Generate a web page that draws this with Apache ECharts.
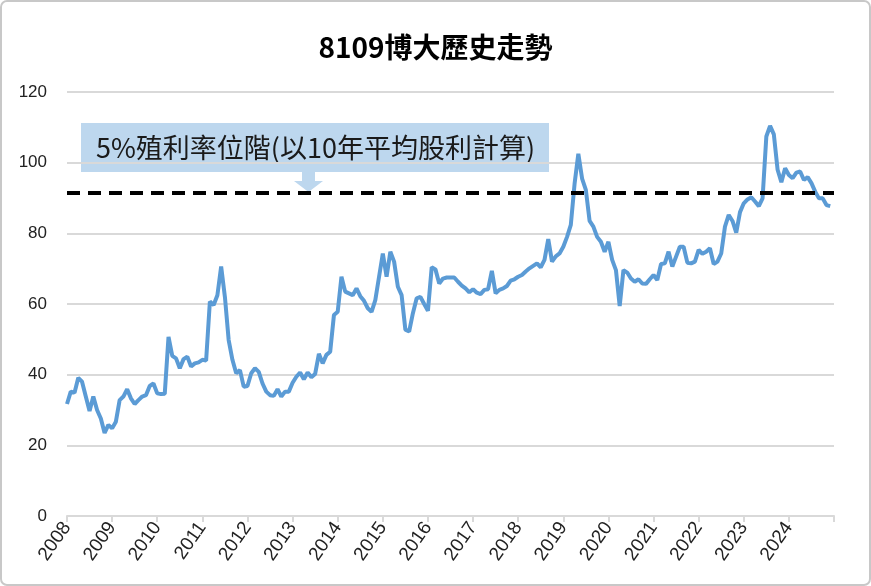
<!DOCTYPE html>
<html>
<head>
<meta charset="utf-8">
<title>8109博大歷史走勢</title>
<script src="https://cdn.jsdelivr.net/npm/echarts@6/dist/echarts.min.js"></script>
<style>
html, body { margin: 0; padding: 0; background: #fff; }
#main { width: 871px; height: 586px; }
</style>
</head>
<body>
<div id="main"></div>
<script>
var chartTitle = '8109博大歷史走勢';
var noteText = '5%殖利率位階(以10年平均股利計算)';
var startYear = 2008;
var endYear = 2025;
// monthly prices, 2008-01 .. 2024-12 (one row per year)
var prices = [
  31.7, 35.2, 34.9, 39.1, 38.0, 33.8, 29.7, 33.8, 30.0, 27.6, 23.5, 25.8,
  24.8, 26.7, 32.8, 33.8, 35.9, 33.3, 31.7, 32.8, 33.8, 34.2, 36.8, 37.5,
  34.7, 34.5, 34.6, 50.7, 45.3, 44.6, 41.8, 44.4, 45.1, 42.3, 43.2, 43.5,
  44.2, 44.0, 60.7, 59.7, 62.5, 70.6, 62.0, 49.8, 44.2, 40.4, 41.3, 36.6,
  36.8, 40.4, 41.8, 40.8, 37.5, 35.2, 34.2, 34.0, 35.9, 33.8, 35.2, 35.2,
  37.7, 39.4, 40.6, 38.7, 40.6, 39.3, 40.2, 45.9, 43.2, 45.6, 46.5, 56.9,
  57.8, 67.7, 63.5, 63.0, 62.5, 64.4, 62.2, 60.9, 58.8, 57.8, 61.1, 67.7,
  74.3, 67.7, 74.8, 72.0, 64.9, 62.5, 52.7, 52.2, 57.4, 61.6, 62.0, 60.0,
  58.1, 70.4, 69.8, 65.8, 67.2, 67.5, 67.5, 67.5, 66.3, 65.2, 64.4, 63.3,
  64.2, 63.2, 62.8, 64.0, 64.2, 69.4, 63.0, 64.0, 64.4, 65.1, 66.6, 67.0,
  67.7, 68.2, 69.2, 70.1, 70.8, 71.5, 70.4, 72.5, 78.4, 72.0, 73.5, 74.3,
  76.2, 79.0, 82.4, 94.0, 102.5, 95.5, 92.3, 83.5, 81.9, 79.0, 77.6, 74.8,
  77.6, 72.5, 69.6, 59.4, 69.6, 68.9, 67.2, 66.3, 67.0, 65.8, 65.7, 67.0,
  68.2, 66.8, 71.3, 71.5, 74.8, 70.6, 73.4, 76.2, 76.2, 71.7, 71.5, 72.0,
  75.3, 74.2, 74.8, 75.8, 71.3, 72.0, 74.3, 81.9, 85.2, 83.5, 80.2, 86.0,
  88.5, 89.6, 90.2, 89.0, 87.7, 89.9, 107.4, 110.4, 108.0, 98.0, 94.5, 98.4,
  96.5, 95.6, 97.2, 97.5, 95.1, 95.9, 94.2, 91.8, 89.9, 89.9, 88.0, 87.7
];
var yieldLevel = 91.5;   // 5% 殖利率位階
var yMin = 0, yMax = 120, yStep = 20;

var fontEn = 'Liberation Sans, Arial, Noto Sans CJK TC, sans-serif';
var fontZh = 'Noto Sans CJK TC, Liberation Sans, sans-serif';

var lineData = [];
for (var i = 0; i < prices.length; i++) {
  lineData.push([startYear + i / 12, prices[i]]);
}

var chart = echarts.init(document.getElementById('main'));

var option = {
  backgroundColor: '#fff',
  animation: false,
  title: {
    text: chartTitle,
    left: 'center',
    top: 28,
    textStyle: { fontFamily: fontZh, fontSize: 28, fontWeight: 'bold', color: '#000' }
  },
  grid: { left: 67, right: 37, top: 92, bottom: 70 },
  xAxis: {
    type: 'value',
    min: startYear,
    max: endYear,
    interval: 1,
    axisLine: { show: true, lineStyle: { color: '#d9d9d9', width: 2 } },
    axisTick: { show: true, length: 6, lineStyle: { color: '#d9d9d9', width: 2 } },
    splitLine: { show: false },
    axisLabel: {
      rotate: 55,
      margin: 8,
      fontSize: 19,
      color: '#222',
      fontFamily: fontEn,
      formatter: function (v) { return v >= endYear ? '' : String(v); }
    }
  },
  yAxis: {
    type: 'value',
    min: yMin,
    max: yMax,
    interval: yStep,
    axisLine: { show: false },
    axisTick: { show: false },
    axisLabel: { fontSize: 17, color: '#222', fontFamily: fontEn, margin: 20 },
    splitLine: { lineStyle: { color: '#d9d9d9', width: 2 } }
  },
  series: [
    {
      type: 'line',
      data: lineData,
      showSymbol: false,
      symbol: 'none',
      lineStyle: { color: '#5b9bd5', width: 4 },
      z: 3,
      markLine: {
        silent: true,
        symbol: 'none',
        label: { show: false },
        lineStyle: { color: '#000', width: 4, type: [13, 8] },
        data: [{ yAxis: yieldLevel }]
      }
    }
  ],
  graphic: [
    {
      type: 'rect',
      shape: { x: 1, y: 1, width: 869, height: 584, r: 6 },
      style: { fill: null, stroke: '#c8c8c8', lineWidth: 2 },
      silent: true
    },
    {
      type: 'group',
      z: 10,
      children: [
        {
          type: 'rect',
          shape: { x: 81, y: 123, width: 468, height: 49 },
          style: { fill: '#bdd7ee' }
        },
        {
          type: 'polygon',
          shape: { points: [[302, 172], [315, 172], [315, 181], [323, 181], [308.5, 192], [294, 181], [302, 181]] },
          style: { fill: '#bdd7ee' }
        },
        {
          type: 'text',
          x: 96,
          y: 148,
          style: {
            text: noteText,
            fontFamily: fontZh,
            fontSize: 27,
            fill: '#1a1a1a',
            verticalAlign: 'middle'
          }
        }
      ]
    }
  ]
};

chart.setOption(option);
</script>
</body>
</html>
